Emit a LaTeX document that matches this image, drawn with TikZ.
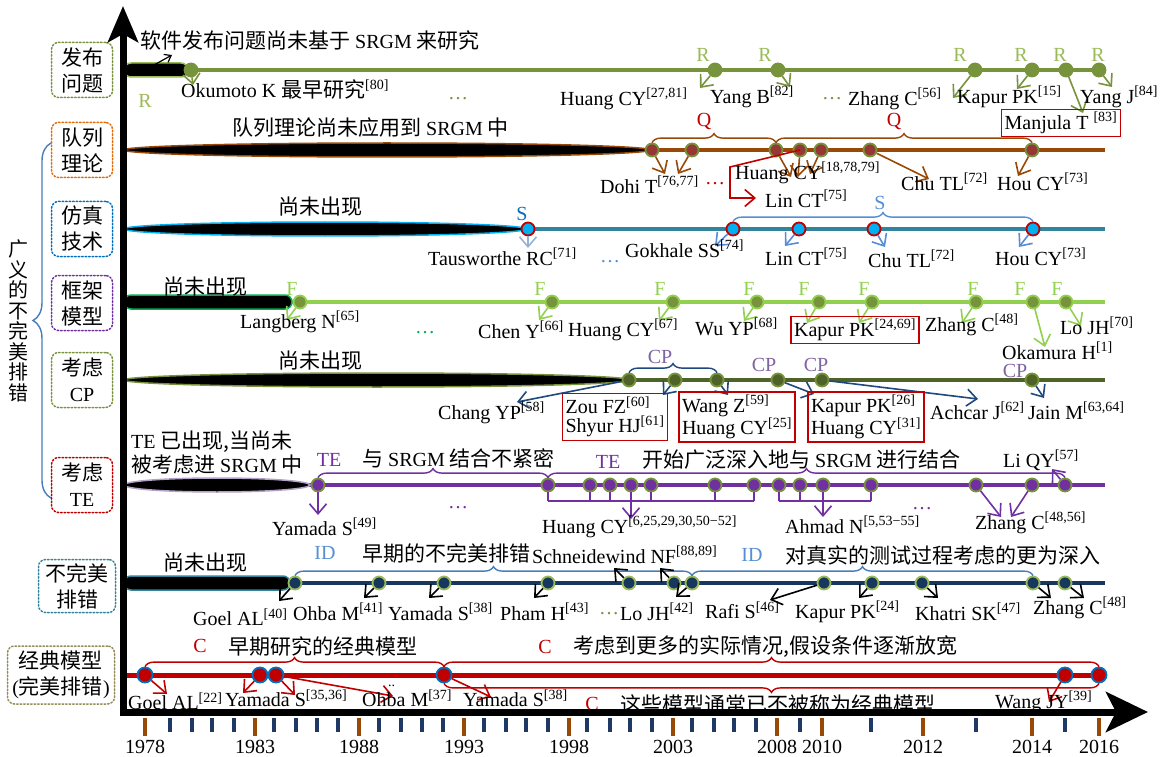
\documentclass[tikz,border=0pt]{standalone}
\usepackage{fontspec}
\setmainfont{Liberation Serif}
\newfontfamily\cjk{Noto Sans CJK SC}[Scale=1.05]
\usetikzlibrary{arrows.meta,decorations.pathreplacing,shapes.geometric,shapes.misc}
\newcommand\rf[1]{\textsuperscript{[#1]}}
\newcommand\zh[1]{{\cjk #1}}
\newcommand\Arr[4]{\coordinate (#3) at (#4); \draw[#1] (#2) -- (#3);}
\definecolor{cA}{HTML}{77933C}
\definecolor{cAl}{HTML}{9BBB59}
\definecolor{cB}{HTML}{984807}
\definecolor{cBd}{HTML}{953735}
\definecolor{cT}{HTML}{31849B}
\definecolor{cCy}{HTML}{00B0F0}
\definecolor{cS}{HTML}{558ED5}
\definecolor{cSl}{HTML}{95B3D7}
\definecolor{cSd}{HTML}{0070C0}
\definecolor{cL}{HTML}{92D050}
\definecolor{cG}{HTML}{00B050}
\definecolor{cO}{HTML}{4F6228}
\definecolor{cDB}{HTML}{1F497D}
\definecolor{cCP}{HTML}{8064A2}
\definecolor{cP}{HTML}{7030A0}
\definecolor{cPl}{HTML}{B3A2C7}
\definecolor{cN}{HTML}{17375E}
\definecolor{cR}{HTML}{C00000}
\definecolor{cOr}{HTML}{E46C0A}
\definecolor{cK}{HTML}{948A54}
\definecolor{cTk}{HTML}{1F3864}
\definecolor{cBr}{HTML}{4A7EBB}
\tikzset{
  txt/.style={inner sep=0pt, anchor=west, font=\fontsize{20}{22}\selectfont},
  ctxt/.style={inner sep=0pt, anchor=center, font=\fontsize{20}{22}\selectfont},
  lettr/.style={ctxt, text=#1},
  rowbox/.style={draw=#1, line width=1.5pt, dotted, line cap=round, rounded corners=7pt, align=center, inner sep=0pt, minimum width=61pt, minimum height=55pt, font=\fontsize{20}{26}\selectfont},
  pillE/.style={ellipse, fill=black, draw=#1, line width=1.5pt, inner sep=0pt, minimum height=14pt},
  pillR/.style={rounded rectangle, fill=black, draw=#1, line width=1.5pt, inner sep=0pt, minimum height=14pt},
  rowline/.style={line width=4pt, draw=#1},
  dt/.style 2 args={circle, inner sep=0pt, minimum size=13pt, fill=#1, draw=#2, line width=1.8pt},
  arr/.style={draw=#1, line width=1.6pt, -{Straight Barb[length=10pt,width=17pt]}},
  brc/.style={draw=#1, line width=1.4pt, decorate, decoration={brace, amplitude=9pt}},
  brcm/.style={draw=#1, line width=1.4pt, decorate, decoration={brace, mirror, amplitude=9pt}},
  refbox/.style={draw=cR, line width=1.4pt, inner sep=3pt, align=left, font=\fontsize{20}{19}\selectfont},
  tk/.style={draw=#1, line width=3.5pt}
}
\begin{document}
\begin{tikzpicture}[x=1pt,y=-1pt]
\useasboundingbox (0,0) rectangle (1171,757);
\fill[white] (0,0) rectangle (1171,757);

% ---------- left boxes ----------
\node[rowbox=cA] (B1) at (82,70) {\zh{发布}\\\zh{问题}};
\node[rowbox=cOr] (B2) at (82,150) {\zh{队列}\\\zh{理论}};
\node[rowbox=cSd] (B3) at (82,229) {\zh{仿真}\\\zh{技术}};
\node[rowbox=cP] (B4) at (82,303) {\zh{框架}\\\zh{模型}};
\node[rowbox=cA] (B5) at (82,380) {\zh{考虑}\\CP};
\node[rowbox=cR] (B6) at (82,485) {\zh{考虑}\\TE};
\node[rowbox=cT, minimum width=77pt, minimum height=53pt] (B7) at (77,586) {\zh{不完美}\\\zh{排错}};
\node[rowbox=cK, minimum width=107pt, minimum height=58pt] (B8) at (61,675) {\zh{经典模型}\\(\zh{完美排错})};
\coordinate (LB1) at (51,498); \coordinate (LB2) at (51,143);
\draw[brc=cBr, decoration={amplitude=18pt}] (LB1) -- (LB2);
\node[align=center, inner sep=0pt, font=\cjk\fontsize{19}{20.5}\selectfont] (side) at (18,321) {广\\义\\的\\不\\完\\美\\排\\错};

% ---------- row 1 ----------
\draw[rowline=cA] (125,70) -- (1105,70);
\node[pillR=cAl, minimum width=64pt] (p1) at (156,70) {};
\node[txt] (t1) at (140,40) {\zh{软件发布问题尚未基于} SRGM \zh{来研究}};
\coordinate (t1a) at (154,65); \coordinate (t1b) at (172,55);
\draw[line width=1.2pt, -{Straight Barb[length=6pt,width=9pt]}] (t1a) -- (t1b);
\node[lettr=cAl] (R0) at (145,101) {R};
\node[dt={cA}{cA}] (d10) at (191,70) {};
\Arr{arr=cA}{d10}{e10}{193,85}
\node[txt] (n10) at (181,89) {Okumoto K \zh{最早研究}\rf{80}};
\node[txt, text=cA] (el1) at (448,99) {…};
\foreach \x/\n in {715/1,778/2,975/3,1032/4,1066/5,1099/6} \node[dt={cA}{cA}] (d1\n) at (\x,70) {};
\foreach \x/\n in {703/1,765/2,960/3,1021/4,1060/5,1098/6} \node[lettr=cAl] (R1\n) at (\x,55) {R};
\Arr{arr=cA}{d11}{e11}{700,88}
\Arr{arr=cA}{d12}{e12}{790,87}
\Arr{arr=cA}{d13}{e13}{953,98}
\Arr{arr=cA}{d14}{e14}{1017,89}
\Arr{arr=cA}{d15}{e15}{1083,113}
\Arr{arr=cA}{d16}{e16}{1112,87}
\node[txt] (n11) at (560,99) {Huang CY\rf{27,81}};
\node[txt] (n12) at (710,97) {Yang B\rf{82}};
\node[txt, text=cA] (el2) at (822,99) {…};
\node[txt] (n13) at (848,99) {Zhang C\rf{56}};
\node[txt] (n14) at (957,97) {Kapur PK\rf{15}};
\node[txt] (n16) at (1080,97) {Yang J\rf{84}};
\node[refbox] (n15) at (1061,123) {Manjula T \rf{83}};

% ---------- row 2 ----------
\draw[rowline=cB] (125,150) -- (1105,150);
\node[pillE=cB, minimum width=526pt] (p2) at (387,150) {};
\node[txt] (t2) at (232,128) {\zh{队列理论尚未应用到} SRGM \zh{中}};
\foreach \x/\n in {652/1,692/2,776/3,800/4,821/5,870/6,1032/7} \node[dt={cBd}{cA}] (d2\n) at (\x,150) {};
\draw[brc=cB] (d21.north) -- (d23.north);
\draw[brc=cB] (d23.north) -- (d27.north);
\node[lettr=cR] (Q1) at (704,122) {Q};
\node[lettr=cR] (Q2) at (894,122) {Q};
\Arr{arr=cB}{d21}{e21}{665,174}
\Arr{arr=cB}{d22}{e22}{678,174}
\Arr{arr=cB}{d23}{e23}{791,177}
\Arr{arr=cB}{d24}{e24}{798,177}
\Arr{arr=cB}{d25}{e25}{810,174}
\Arr{arr=cB}{d26}{e26}{929,179}
\Arr{arr=cB}{d27}{e27}{1018,176}
\coordinate (q1) at (730,167); \coordinate (q2) at (730,198); \coordinate (q3) at (756,198);
\draw[arr=cR] (d24.center) -- (q1) -- (q2) -- (q3);
\node[txt] (n21) at (600,185) {Dohi T\rf{76,77}};
\node[txt, text=cR] (el3) at (705,184) {…};
\node[txt] (n22) at (735,173) {Huang CY\rf{18,78,79}};
\node[txt] (n23) at (765,199) {Lin CT\rf{75}};
\node[txt] (n24) at (901,182) {Chu TL\rf{72}};
\node[txt] (n25) at (997,182) {Hou CY\rf{73}};

% ---------- row 3 ----------
\draw[rowline=cT] (125,229) -- (1105,229);
\node[pillE=cCy, minimum width=402pt] (p3) at (325,229) {};
\node[ctxt] (t3) at (320,207) {\zh{尚未出现}};
\node[lettr=cSd] (S0) at (522,214) {S};
\node[dt={cCy}{cR}] (d30) at (528,229) {};
\Arr{arr=cSl}{d30}{e30}{528,248}
\node[txt] (n30) at (428,257) {Tausworthe RC\rf{71}};
\foreach \x/\n in {733/1,799/2,874/3,1033/4} \node[dt={cCy}{cR}] (d3\n) at (\x,229) {};
\draw[brc=cS] (d31.north) -- (d34.north);
\node[lettr=cS] (S1) at (880,203) {S};
\Arr{arr=cS}{d31}{e31}{715,246}
\Arr{arr=cS}{d32}{e32}{785,246}
\Arr{arr=cS}{d33}{e33}{885,247}
\Arr{arr=cS}{d34}{e34}{1019,247}
\node[txt] (n31) at (625,249) {Gokhale SS\rf{74}};
\node[txt, text=cS] (el4) at (600,262) {…};
\node[txt] (n32) at (765,257) {Lin CT\rf{75}};
\node[txt] (n33) at (868,259) {Chu TL\rf{72}};
\node[txt] (n34) at (995,257) {Hou CY\rf{73}};

% ---------- row 4 ----------
\draw[rowline=cL] (125,302) -- (1105,302);
\node[pillR=cG, minimum width=168pt] (p4) at (208,302) {};
\node[ctxt] (t4) at (205,287) {\zh{尚未出现}};
\foreach \x/\n in {300/0,552/1,673/2,757/3,819/4,872/5,976/6,1033/7,1066/8} \node[dt={cA}{cL}] (d4\n) at (\x,302) {};
\foreach \x/\n in {292/0,540/1,660/2,749/3,804/4,864/5,973/6,1020/7,1057/8} \node[lettr=cL] (F\n) at (\x,289) {F};
\Arr{arr=cL}{d40}{e40}{287,320}
\Arr{arr=cL}{d41}{e41}{539,320}
\Arr{arr=cL}{d42}{e42}{659,321}
\Arr{arr=cL}{d43}{e43}{744,321}
\Arr{arr=cL}{d44}{e44}{807,323}
\Arr{arr=cL}{d45}{e45}{859,323}
\Arr{arr=cL}{d46}{e46}{962,323}
\Arr{arr=cL}{d47}{e47}{1045,347}
\Arr{arr=cL}{d48}{e48}{1081,326}
\node[txt] (n40) at (240,322) {Langberg N\rf{65}};
\node[txt, text=cG] (el5) at (415,333) {…};
\node[txt] (n41) at (478,330) {Chen Y\rf{66}};
\node[txt] (n42) at (568,330) {Huang CY\rf{67}};
\node[txt] (n43) at (695,327) {Wu YP\rf{68}};
\node[refbox] (n44) at (855,330) {Kapur PK\rf{24,69}};
\node[txt] (n46) at (925,325) {Zhang C\rf{48}};
\node[txt] (n47) at (1002,351) {Okamura H\rf{1}};
\node[txt] (n48) at (1060,326) {Lo JH\rf{70}};

% ---------- row 5 ----------
\draw[rowline=cO] (125,380) -- (1105,380);
\node[pillE=cA, minimum width=506pt] (p5) at (377,380) {};
\node[ctxt] (t5) at (320,361) {\zh{尚未出现}};
\foreach \x/\n in {629/1,675/2,717/3,778/4,822/5,1032/6} \node[dt={cO}{cA}] (d5\n) at (\x,380) {};
\draw[brc=cDB] (d51.north) -- (d53.north);
\node[lettr=cCP] (CP1) at (660,357) {CP};
\node[lettr=cCP] (CP2) at (764,365) {CP};
\node[lettr=cCP] (CP3) at (816,365) {CP};
\node[lettr=cCP] (CP4) at (1015,371) {CP};
\Arr{arr=cDB}{d51}{e51}{517,402}
\Arr{arr=cDB}{d52}{e52}{663,395}
\Arr{arr=cDB}{d53}{e53}{728,395}
\Arr{arr=cDB}{d54}{e54}{814,394}
\Arr{arr=cDB}{d55}{e55}{978,399}
\Arr{arr=cDB}{d56}{e56}{1044,398}
\node[txt] (n51) at (438,413) {Chang YP\rf{58}};
\node[refbox] (b51) at (615,417) {Zou FZ\rf{60}\\Shyur HJ\rf{61}};
\node[refbox] (b52) at (737,417) {Wang Z\rf{59}\\Huang CY\rf{25}};
\node[refbox] (b53) at (866,417) {Kapur PK\rf{26}\\Huang CY\rf{31}};
\node[txt] (n55) at (930,411) {Achcar J\rf{62}};
\node[txt] (n56) at (1028,411) {Jain M\rf{63,64}};

% ---------- row 6 ----------
\draw[rowline=cP] (125,485) -- (1105,485);
\node[pillE=cPl, minimum width=186pt] (p6) at (217,485) {};
\node[txt] (t6a) at (131,442) {TE \zh{已出现,当尚未}};
\node[txt] (t6b) at (131,465) {\zh{被考虑进} SRGM \zh{中}};
\foreach \x/\n in {318/a,548/b,590/c,610/d,631/e,651/f,715/g,754/h,779/i,800/j,823/k,871/l,976/m,1032/n,1065/o} \node[dt={cP}{cA}] (d6\n) at (\x,485) {};
\draw[brc=cP] (d6a.north) -- (d6b.north);
\draw[brc=cP] (d6b.north) -- (d6o.north);
\node[lettr=cP] (TE1) at (329,460) {TE};
\node[txt] (t6c) at (362,458) {\zh{与} SRGM \zh{结合不紧密}};
\node[lettr=cP] (TE2) at (608,462) {TE};
\node[txt] (t6d) at (642,460) {\zh{开始广泛深入地与} SRGM \zh{进行结合}};
\node[txt] (n6o) at (1003,460) {Li QY\rf{57}};
\Arr{arr=cP}{d6o}{e6o}{1052,469}
\coordinate (bar6) at (0,501);
\foreach \n in {b,c,d,e,f,g,h,i,j,k,l} \draw[cP, line width=2.2pt] (d6\n.south) -- (d6\n.south |- bar6);
\draw[cP, line width=2.2pt] (d6b.south |- bar6) -- (d6h.south |- bar6);
\draw[cP, line width=2.2pt] (d6i.south |- bar6) -- (d6l.south |- bar6);
\Arr{arr=cP}{d6e.south |- bar6}{e6e}{631,519}
\Arr{arr=cP}{d6k.south |- bar6}{e6k}{823,517}
\Arr{arr=cP}{d6a}{e6a}{318,515}
\Arr{arr=cP}{d6m}{e6m}{1001,517}
\Arr{arr=cP}{d6n}{e6n}{1011,517}
\node[txt] (n6a) at (272,527) {Yamada S\rf{49}};
\node[txt, text=cP] (el6) at (448,508) {…};
\node[txt] (n6b) at (542,527) {Huang CY\rf{6,25,29,30,50−52}};
\node[txt] (n6i) at (785,525) {Ahmad N\rf{5,53−55}};
\node[txt, text=cP] (el7) at (912,509) {…};
\node[txt] (n6m) at (975,523) {Zhang C\rf{48,56}};

% ---------- row 7 ----------
\draw[line width=4.5pt, cN] (125,583) -- (1105,583);
\node[pillR=cT, minimum width=166pt] (p7) at (207,583) {};
\node[ctxt] (t7) at (205,563) {\zh{尚未出现}};
\foreach \x/\n in {295/a,379/b,444/c,548/d,629/e,674/f,692/g,824/h,872/i,922/j,1033/k,1065/l} \node[dt={cN}{cAl}] (d7\n) at (\x,583) {};
\draw[brc=cBr] (d7a.north) -- (d7g.north);
\draw[brc=cBr] (d7g.north) -- (d7k.north);
\node[lettr=cS] (ID1) at (325,553) {ID};
\node[txt] (t7a) at (362,553) {\zh{早期的不完美排错}};
\node[txt] (n7x) at (532,555) {Schneidewind NF\rf{88,89}};
\node[lettr=cS] (ID2) at (752,555) {ID};
\node[txt] (t7b) at (785,555) {\zh{对真实的测试过程考虑的更为深入}};
\Arr{arr=black}{d7a}{e7a}{279,601}
\Arr{arr=black}{d7b}{e7b}{364,598}
\Arr{arr=black}{d7c}{e7c}{429,598}
\Arr{arr=black}{d7d}{e7d}{534,598}
\Arr{arr=black}{d7e}{e7e}{614,568}
\Arr{arr=black}{d7f}{e7f}{660,568}
\Arr{arr=black}{d7g}{e7g}{676,597}
\Arr{arr=black}{d7h}{e7h}{770,600}
\Arr{arr=black}{d7i}{e7i}{859,598}
\Arr{arr=black}{d7j}{e7j}{938,598}
\Arr{arr=black}{d7k}{e7k}{1051,598}
\Arr{arr=black}{d7l}{e7l}{1084,598}
\node[txt] (n7a) at (193,617) {Goel AL\rf{40}};
\node[txt] (n7b) at (293,612) {Ohba M\rf{41}};
\node[txt] (n7c) at (388,612) {Yamada S\rf{38}};
\node[txt] (n7d) at (500,612) {Pham H\rf{43}};
\node[txt, text=cA] (el8) at (599,614) {…};
\node[txt] (n7g) at (620,612) {Lo JH\rf{42}};
\node[txt] (n7h) at (705,610) {Rafi S\rf{46}};
\node[txt] (n7i) at (795,612) {Kapur PK\rf{24}};
\node[txt] (n7j) at (915,612) {Khatri SK\rf{47}};
\node[txt] (n7k) at (1033,608) {Zhang C\rf{48}};

% ---------- row 8 ----------
\draw[line width=5pt, cR] (125,675) -- (1105,675);
\foreach \x/\n in {145/a,260/b,276/c,444/d,1065/e,1099/f} \node[dt={cR}{cSd}, minimum size=15pt] (d8\n) at (\x,675) {};
\draw[brc=cR] (d8a.north) -- (d8d.north);
\draw[brc=cR] (d8d.north) -- (d8f.north);
\draw[brcm=cR] (d8d.south) -- (d8f.south);
\node[lettr=cR] (C1) at (200,646) {C};
\node[txt] (t8a) at (228,646) {\zh{早期研究的经典模型}};
\node[lettr=cR] (C2) at (545,647) {C};
\node[txt] (t8b) at (573,647) {\zh{考虑到更多的实际情况,假设条件逐渐放宽}};
\node[lettr=cR] (C3) at (592,704) {C};
\node[txt] (t8c) at (620,704) {\zh{这些模型通常已不被称为经典模型}};
\Arr{arr=cR}{d8a}{e8a}{167,694}
\Arr{arr=cR}{d8b}{e8b}{243,693}
\Arr{arr=cR}{d8c}{e8c}{295,695}
\Arr{arr=cR}{d8c}{e8c2}{393,696}
\Arr{arr=cR}{d8d}{e8d}{491,697}
\Arr{arr=cR}{d8e}{e8e}{1049,702}
\node[txt] (n8a) at (128,701) {Goel AL\rf{22}};
\node[txt] (n8b) at (225,698) {Yamada S\rf{35,36}};
\node[txt] (n8c) at (362,698) {Ohba M\rf{37}};
\node[txt] (n8d) at (463,698) {Yamada S\rf{38}};
\node[txt] (n8e) at (995,702) {Wang JY\rf{39}};
\node[txt, font=\fontsize{14}{14}\selectfont] (el9) at (388,686) {..};

% ---------- axes ----------
\coordinate (O) at (123,716);
\coordinate (Ytop) at (123,6);
\coordinate (X0) at (119.5,712);
\coordinate (Xend) at (1148,712);
\draw[line width=7pt, -{Stealth[length=36pt,width=30pt,inset=8pt]}] (O) -- (Ytop);
\draw[line width=7pt, -{Stealth[length=42pt,width=40pt,inset=10pt]}] (X0) -- (Xend);
\foreach \x in {170,192,212,234,274,296,317,338,379,401,422,443,484,506,526,548,587,610,630,652,692,714,734,756,800,871,976,1065} \draw[tk=cTk] (\x,718) -- (\x,732);
\foreach \x/\yr in {145/1978,255/1983,359/1988,464/1993,569/1998,673/2003,777/2008,822/2010,923/2012,1032/2014,1099/2016} {\draw[tk=cB] (\x,718) -- (\x,736); \node[ctxt] (y\yr) at (\x,747) {\yr};}
\end{tikzpicture}
\end{document}
